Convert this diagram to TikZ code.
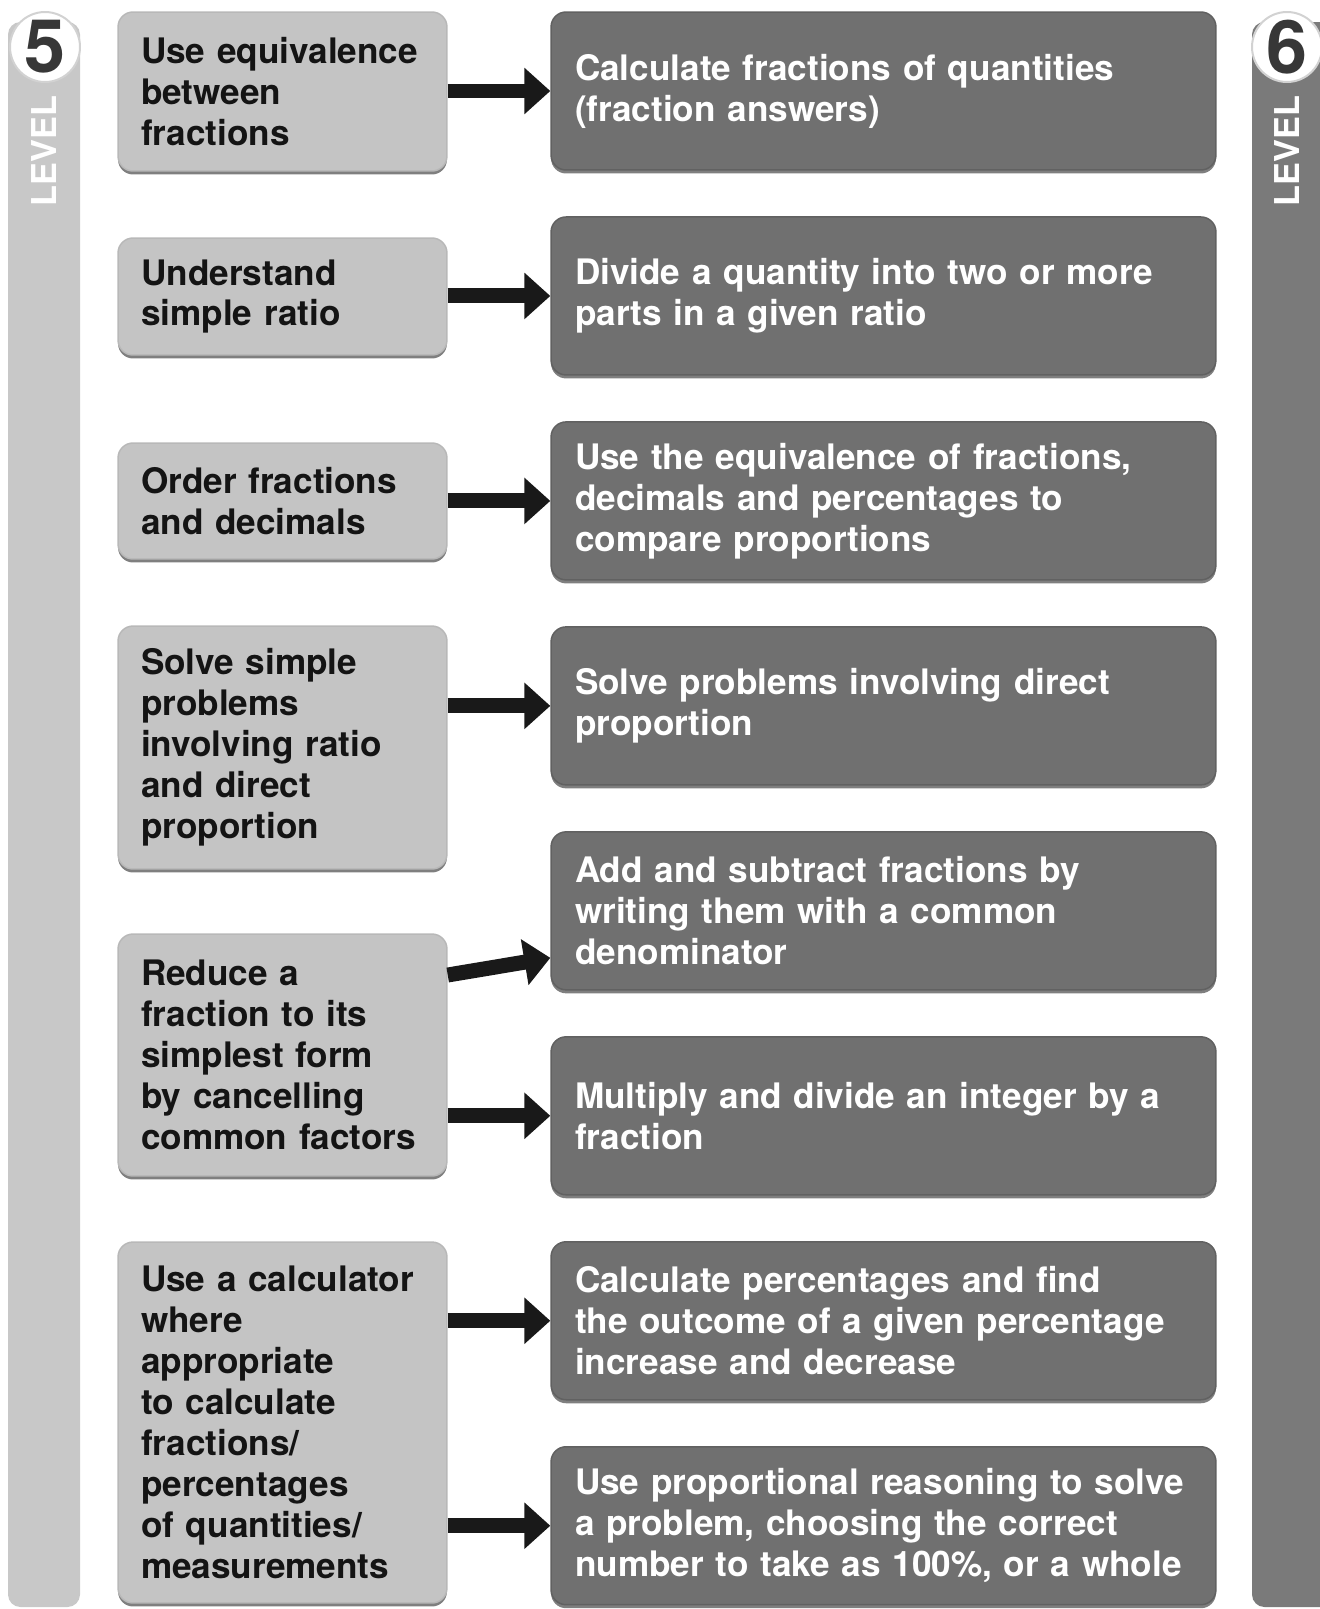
\documentclass[tikz,border=0pt]{standalone}
\usepackage{fontspec}
\setmainfont{TeX Gyre Heros}
\usetikzlibrary{positioning}
\usetikzlibrary{arrows.meta}
\usetikzlibrary{shadows}

\definecolor{hellgrau}{RGB}{196,196,196}
\definecolor{dunkelgrau}{RGB}{112,112,112}
\definecolor{balkenhell}{RGB}{200,200,200}
\definecolor{balkendunkel}{RGB}{122,122,122}
\definecolor{ziffer}{RGB}{55,55,55}

\begin{document}
\begin{tikzpicture} [ x=0.02cm, y=-0.02cm
								, node distance =0.91cm
								, font=\fontsize{20}{23.3}\selectfont\bfseries
								, schatten/.style={drop shadow={shadow xshift=0pt, shadow yshift=-0.07cm, fill=black, opacity=.5}}
								, stufefuenf/.style={rectangle, rounded corners=0.3cm, fill=hellgrau, draw=black!28, line width=0.03cm, text=black!92, text width=5.66cm, inner xsep=0.46cm, align=left, schatten}
								, stufesechs/.style={rectangle, rounded corners=0.3cm, fill=dunkelgrau, draw=black!62, line width=0.03cm, text=white, text width=12.34cm, inner xsep=0.48cm, minimum height=3.16cm, align=left, schatten}
								, kreis/.style={circle, fill=white, draw=gray!35, line width=0.04cm, minimum size=1.4cm, inner sep=0pt, text=ziffer, font=\fontsize{42}{42}\selectfont\bfseries}
								, balkentext/.style={rotate=90, text=white, font=\fontsize{19.5}{20}\selectfont\bfseries}
								, pfeil/.style ={draw, black!90, line width=0.3cm, arrows= -{Triangle[length=0.52cm, width=0.9cm]}}
								]
	\useasboundingbox (0,0) rectangle (1319,1609);

	% Balken links und rechts
	\fill [balkenhell, rounded corners=0.25cm] (8,22) rectangle (80,1607);
	\fill [balkendunkel, rounded corners=0.25cm] (1252,22) rectangle (1340,1607);
	\node (kreis5) [kreis] at (45,47) {5};
	\node (kreis6) [kreis] at (1287,47) {6};
	\node (level5) [balkentext] at (44,151) {LEVEL};
	\node (level6) [balkentext] at (1287,151) {LEVEL};

	% Level 5
	\node (L1) [stufefuenf, minimum height=3.18cm] at (282.5,91.5) {Use equivalence\\between\\fractions};
	\node (L2) [stufefuenf, minimum height=2.34cm] at (282.5,296.5) {Understand\\simple ratio};
	\node (L3) [stufefuenf, minimum height=2.32cm] at (282.5,501) {Order fractions\\and decimals};
	\node (L4) [stufefuenf, minimum height=4.86cm] at (282.5,747.5) {Solve simple\\problems\\involving ratio\\and direct\\proportion};
	\node (L5) [stufefuenf, minimum height=4.84cm] at (282.5,1055) {Reduce a\\fraction to its\\simplest form\\by cancelling\\common factors};
	\node (L6) [stufefuenf, minimum height=7.22cm] at (282.5,1422.5) {Use a calculator\\where\\appropriate\\to calculate\\fractions/\\percentages\\of quantities/\\measurements};

	% Level 6
	\node (R1) [stufesechs] at (883.5,91) {Calculate fractions of quantities\\(fraction answers)};
	\node (R2) [stufesechs, below=of R1] {Divide a quantity into two or more\\parts in a given ratio};
	\node (R3) [stufesechs, below=of R2] {Use the equivalence of fractions,\\decimals and percentages to\\compare proportions};
	\node (R4) [stufesechs, below=of R3] {Solve problems involving direct\\proportion};
	\node (R5) [stufesechs, below=of R4] {Add and subtract fractions by\\writing them with a common\\denominator};
	\node (R6) [stufesechs, below=of R5] {Multiply and divide an integer by a\\fraction};
	\node (R7) [stufesechs, below=of R6] {Calculate percentages and find\\the outcome of a given percentage\\increase and decrease};
	\node (R8) [stufesechs, below=of R7] {Use proportional reasoning to solve\\a problem, choosing the correct\\number to take as 100\%, or a whole};

	\draw [pfeil] (L1.east |- R1.west) -- (R1.west);
	\draw [pfeil] (L2.east |- R2.west) -- (R2.west);
	\draw [pfeil] (L3.east |- R3.west) -- (R3.west);
	\draw [pfeil] (L4.east |- R4.west) -- (R4.west);
	\draw [pfeil] ([yshift=1.6cm]L5.east) -- ([yshift=-0.94cm]R5.west);
	\draw [pfeil] (L5.east |- R6.west) -- (R6.west);
	\draw [pfeil] (L6.east |- R7.west) -- (R7.west);
	\draw [pfeil] (L6.east |- R8.west) -- (R8.west);

\end{tikzpicture}
\end{document}
